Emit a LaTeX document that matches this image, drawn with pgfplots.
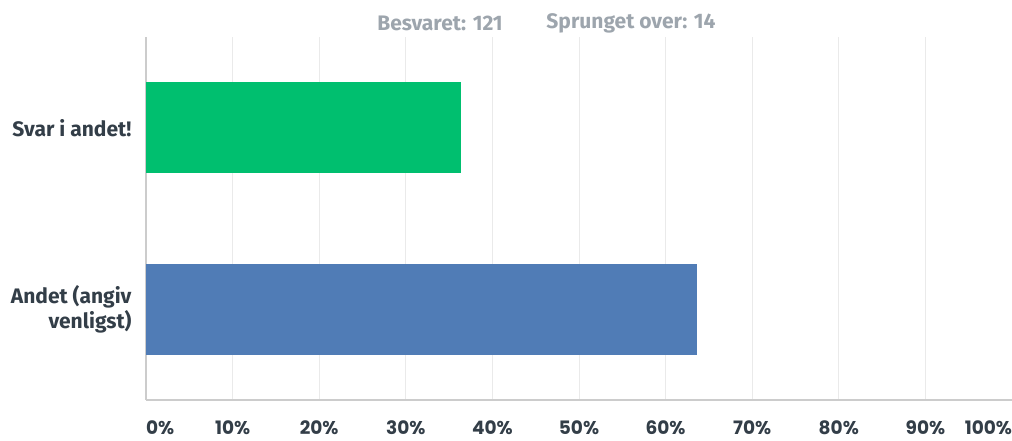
\documentclass[border=0pt]{standalone}
\usepackage{fontspec}
\setmainfont{Fira Sans}
\newfontfamily\pop{Poppins}
\usepackage{pgfplots}
\pgfplotsset{compat=1.18}
\definecolor{grn}{HTML}{00BF6F}
\definecolor{blu}{HTML}{507CB6}
\definecolor{txt}{HTML}{333E48}
\definecolor{ttl}{HTML}{9DA5AD}
\definecolor{grd}{HTML}{EAEAEA}
\definecolor{axl}{HTML}{CCCCCC}
\begin{document}
\begin{tikzpicture}
\path[use as bounding box, fill=white] (0pt,0pt) rectangle (1012pt,441pt);
\begin{axis}[at={(146pt,41pt)}, anchor=south west, scale only axis,
  width=866pt, height=363pt,
  xmin=0, xmax=100, ymin=-0.5, ymax=1.5,
  xbar, bar width=91pt, bar shift=0pt,
  axis x line*=bottom, axis y line*=left,
  axis line style={axl, line width=1.5pt},
  xtick={0,10,...,100},
  xticklabels={\makebox[0pt][l]{0\%},10\%,20\%,30\%,40\%,50\%,60\%,70\%,80\%,90\%,\makebox[0pt][r]{100\%}},
  xmajorgrids, grid style={grd, line width=1pt},
  major tick length=0pt,
  xticklabel style={font=\pop\bfseries\fontsize{18.5}{19}\selectfont, text=txt, anchor=north, yshift=-17pt},
  ytick={0,1},
  yticklabels={{Andet (angiv\\venligst)},{Svar i andet!}},
  yticklabel style={font=\bfseries\fontsize{21}{25}\selectfont, text=txt, align=right, xshift=-11pt},
]
\addplot[draw=none, fill=blu] coordinates {(63.64,0)};
\addplot[draw=none, fill=grn] coordinates {(36.36,1)};
\end{axis}
\node[font=\bfseries\fontsize{21}{21}\selectfont, text=ttl] at (440pt,418pt) {Besvaret: 121};
\node[font=\bfseries\fontsize{21}{21}\selectfont, text=ttl] at (631pt,418pt) {Sprunget over: 14};
\end{tikzpicture}
\end{document}
